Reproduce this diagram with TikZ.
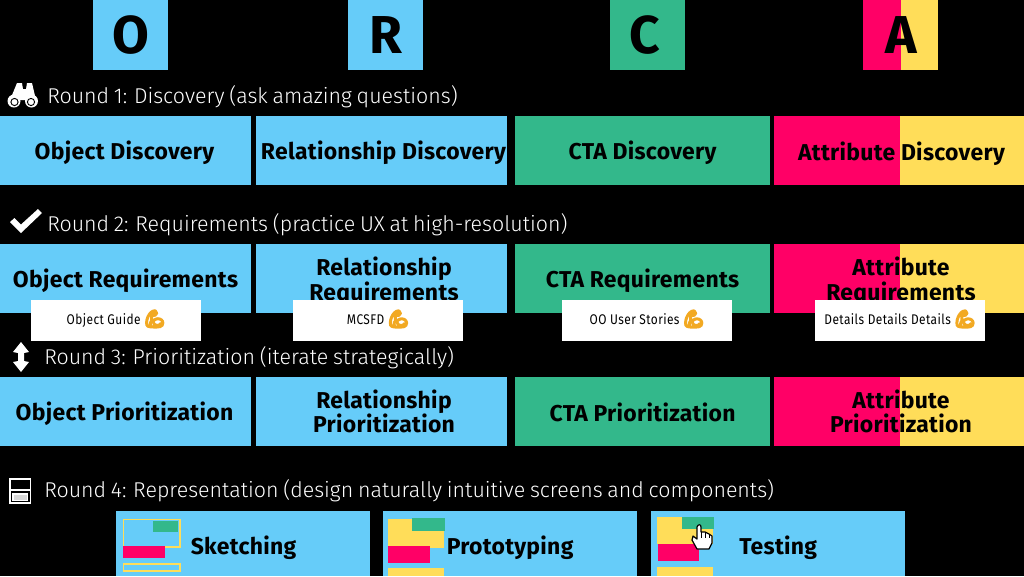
\documentclass[tikz,border=0pt]{standalone}
\usepackage{fontspec}
\setmainfont{Fira Sans}[LetterSpace=1.3]
\newfontfamily\headfont{Fira Sans}
\newfontfamily\roundfont{Fira Sans Light}[WordSpace=0.8]
\newfontfamily\cardfont{Fira Sans}[FakeStretch=0.85,LetterSpace=3]
\newfontfamily\emojifont{Noto Emoji}[FakeBold=14]
\definecolor{oblue}{HTML}{66CCF9}
\definecolor{cgreen}{HTML}{33B88B}
\definecolor{apink}{HTML}{FF0066}
\definecolor{ayellow}{HTML}{FFDD59}
\definecolor{flex}{HTML}{F2A922}
\tikzset{
  px/.style={x=0.75pt,y=-0.75pt},
  box/.style={draw=none,anchor=center,inner sep=0pt,align=center,text=black,font=\bfseries\fontsize{17.2}{18.4}\selectfont},
  headletter/.style={anchor=center,inner sep=0pt,text=black,font=\headfont\bfseries\fontsize{40}{40}\selectfont},
  roundlabel/.style={anchor=west,inner sep=0pt,text=white,font=\roundfont\fontsize{16.05}{18}\selectfont},
  cardlabel/.style={anchor=center,inner sep=0pt,text=black,font=\cardfont\fontsize{10.5}{12}\selectfont},
  icon/.style={fill=white,draw=none},
}
\newcommand{\flexem}{{\emojifont\fontsize{12.5}{12.5}\selectfont\textcolor{flex}{\symbol{"1F4AA}}}}
\begin{document}
\begin{tikzpicture}[px]
\useasboundingbox (0,0) rectangle (1024,576);
\fill[black] (0,0) rectangle (1024,576);
% header
\fill[oblue] (93,0) rectangle (168,70);
\fill[oblue] (348,0) rectangle (423,70);
\fill[cgreen] (610,0) rectangle (685,70);
\fill[apink] (863,0) rectangle (901,70);
\fill[ayellow] (901,0) rectangle (938,70);
\node[headletter] (hO) at (130.5,35) {O};
\node[headletter] (hR) at (385.5,35) {R};
\node[headletter] (hC) at (644.5,35) {C};
\node[headletter] (hA) at (901,35) {A};
% rows
\foreach \t/\b in {116/185,244/313,377/446}{
  \fill[oblue] (0,\t) rectangle (251,\b);
  \fill[oblue] (256,\t) rectangle (507,\b);
  \fill[cgreen] (515,\t) rectangle (770,\b);
  \fill[apink] (774,\t) rectangle (900,\b);
  \fill[ayellow] (900,\t) rectangle (1024,\b);
}
% round labels
\node[roundlabel] (r1) at (47,97) {Round 1: Discovery (ask amazing questions)};
\node[roundlabel] (r2) at (47,225) {Round 2: Requirements (practice UX at high-resolution)};
\node[roundlabel] (r3) at (44,358) {Round 3: Prioritization (iterate strategically)};
\node[roundlabel] (r4) at (44,491) {Round 4: Representation (design naturally intuitive screens and components)};
% row 1
\node[box] (a1) at (124.5,152.5) {Object Discovery};
\node[box] (b1) at (383.5,152.5) {Relationship Discovery};
\node[box] (c1) at (642.5,152.5) {CTA Discovery};
\node[box] (d1) at (901.5,153.5) {Attribute Discovery};
% row 2
\node[box] (a2) at (125.5,281) {Object Requirements};
\node[box] (b2) at (384,281.5) {Relationship\\Requirements};
\node[box] (c2) at (642.5,281) {CTA Requirements};
\node[box] (d2) at (901,281.5) {Attribute\\Requirements};
% cards
\fill[white] (31,300) rectangle (201,341);
\fill[white] (293,300) rectangle (463,341);
\fill[white] (562,300) rectangle (732,341);
\fill[white] (815,300) rectangle (985,341);
\node[cardlabel] (ca) at (116,319) {Object Guide \flexem};
\node[cardlabel] (cb) at (378,319) {MCSFD \flexem};
\node[cardlabel] (cc) at (647,319) {OO User Stories \flexem};
\node[cardlabel] (cd) at (900,319) {Details Details Details \flexem};
% row 3
\node[box] (a3) at (124.5,413.5) {Object Prioritization};
\node[box] (b3) at (384,411.5) {Relationship\\Prioritization};
\node[box] (c3) at (642.5,412) {CTA Prioritization};
\node[box] (d3) at (901,411.5) {Attribute\\Prioritization};
% row 4
\fill[oblue] (116,511) rectangle (370,576);
\fill[oblue] (383,511) rectangle (637,576);
\fill[oblue] (651,511) rectangle (905,576);
\node[box,anchor=west] (s) at (190.5,547.5) {Sketching};
\node[box,anchor=west] (p) at (446.5,547.5) {Prototyping};
\node[box,anchor=west] (t) at (739,547.5) {Testing};
% sketch thumbnail
\draw[ayellow,line width=1.3pt] (123.5,519.5) rectangle (180,547);
\fill[cgreen] (153,521) rectangle (178,532);
\fill[apink] (123,546) rectangle (165,558);
\draw[ayellow,line width=1.3pt] (123.5,564) rectangle (180,571);
% prototype thumbnail
\fill[ayellow] (388,519) rectangle (444,548);
\fill[cgreen] (412,518) rectangle (445,531);
\fill[apink] (388,546) rectangle (430,563);
\fill[ayellow] (388,568) rectangle (444,576);
% testing thumbnail
\fill[ayellow] (657,517) rectangle (713,544);
\fill[cgreen] (682,517) rectangle (714,529);
\fill[apink] (658,544) rectangle (699,561);
\fill[ayellow] (657,567) rectangle (713,576);
% hand cursor
\draw[black,fill=white,line width=0.9pt,line join=round]
  (697,549) -- (692,540) -- (693,536) -- (697,539) -- (697,527) .. controls (698,524) and (701,524) .. (701,527)
  -- (701,532) -- (705,532) -- (709,534) -- (712,536) -- (712,543) -- (709,549) -- cycle;
\draw[black,line width=0.6pt] (701,532) -- (701,538) (705,532) -- (705,538) (709,534) -- (709,538);
% binoculars icon
\fill[icon] (17,83) -- (22,83) -- (23,89) -- (26,89) -- (27,83) -- (32,83) -- (36,100) -- (10,100) -- cycle;
\fill[icon] (14,101) circle (6.5);
\fill[icon] (31.5,101) circle (6.5);
\fill[icon] (20,92) rectangle (27,100);
\draw[black,line width=0.7pt] (14.5,102) circle (3.6);
\draw[black,line width=0.7pt] (31,102) circle (3.6);
% check icon
\fill[icon] (10,222) -- (14.5,218) -- (21,224.5) -- (38,209) -- (42,213) -- (21,233) -- cycle;
% updown icon
\fill[icon] (21,342) -- (29,352) -- (24,353) -- (24,361) -- (29,362) -- (21,372) -- (13,362) -- (18,361) -- (18,353) -- (13,352) -- cycle;
% screen icon
\draw[white,line width=1.4pt] (10,479) rectangle (30.5,503);
\draw[white,line width=1pt] (10,490) -- (30.5,490);
\fill[white] (12,493) rectangle (28,501);
\fill[black!15] (13.5,494.5) rectangle (26.5,499.5);
\end{tikzpicture}
\end{document}
